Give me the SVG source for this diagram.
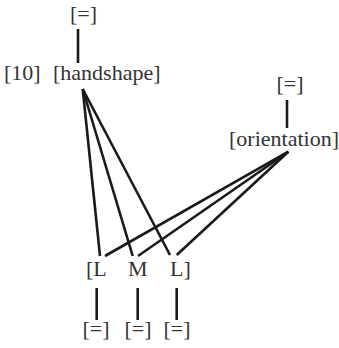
<svg xmlns="http://www.w3.org/2000/svg" width="339" height="348" viewBox="0 0 339 348">
<style>
text{font-family:"Liberation Serif","Times New Roman",serif;font-size:22px;fill:#333}
.c line{stroke:#1a1a1a;stroke-width:2.6;stroke-linecap:butt}
</style>
<rect width="339" height="348" fill="#fff"/>
<g class="c" id="connectors">
<line x1="78" y1="29" x2="78" y2="63"/>
<line x1="287" y1="100" x2="287" y2="128"/>
<line x1="82.7" y1="89" x2="100" y2="256"/>
<line x1="82.7" y1="89" x2="132.7" y2="256"/>
<line x1="82.7" y1="89" x2="170" y2="255"/>
<line x1="288.3" y1="151.7" x2="105" y2="256"/>
<line x1="288.3" y1="151.7" x2="138" y2="256"/>
<line x1="288.3" y1="151.7" x2="176.7" y2="255"/>
<line x1="96.7" y1="288" x2="96.7" y2="320"/>
<line x1="137.7" y1="288" x2="137.7" y2="320"/>
<line x1="176.7" y1="288" x2="176.7" y2="320"/>
</g>
<g id="eq-top"><text x="83.5" y="21" text-anchor="middle">[=]</text></g>
<g id="ten"><text x="4" y="80">[10]</text></g>
<g id="handshape"><text x="53" y="80">[handshape]</text></g>
<g id="eq-orient"><text x="290" y="91" text-anchor="middle">[=]</text></g>
<g id="orientation"><text x="229" y="146">[orientation]</text></g>
<g id="L1"><text x="86" y="276">[L</text></g>
<g id="M"><text x="128" y="276">M</text></g>
<g id="L2"><text x="170" y="276">L]</text></g>
<g id="eq1"><text x="96" y="336" text-anchor="middle">[=]</text></g>
<g id="eq2"><text x="138" y="336" text-anchor="middle">[=]</text></g>
<g id="eq3"><text x="177" y="336" text-anchor="middle">[=]</text></g>
</svg>
